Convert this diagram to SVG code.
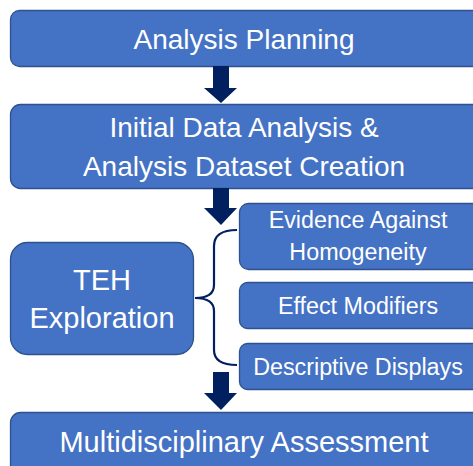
<svg xmlns="http://www.w3.org/2000/svg" width="473" height="466" viewBox="0 0 473 466">
<style>
.box{fill:#4472C4;stroke:#2F528F;stroke-width:1.3}
.t{fill:#fff;font-family:"Liberation Sans",Arial,sans-serif;text-anchor:middle}
.big{font-size:28px}
.sm{font-size:23.3px}
.arr{fill:#002060}
</style>
<rect width="473" height="466" fill="#fff"/>
<g id="analysis-planning">
<rect class="box" x="10.5" y="10.5" width="472" height="56" rx="9"/>
<text class="t big" x="244" y="49">Analysis Planning</text>
</g>
<g id="initial-data-analysis">
<rect class="box" x="10.5" y="104.5" width="472" height="84" rx="10"/>
<text class="t big" x="244" y="137">Initial Data Analysis &amp;</text>
<text class="t big" x="244" y="176">Analysis Dataset Creation</text>
</g>
<g id="teh-exploration">
<rect class="box" x="10.5" y="242.5" width="183" height="112" rx="17"/>
<text class="t" style="font-size:29px" x="102" y="290">TEH</text>
<text class="t" style="font-size:29px" x="102" y="328">Exploration</text>
</g>
<g id="evidence-against-homogeneity">
<rect class="box" x="239.5" y="203.5" width="243" height="66" rx="9"/>
<text class="t sm" x="358" y="228">Evidence Against</text>
<text class="t sm" x="358" y="260">Homogeneity</text>
</g>
<g id="effect-modifiers">
<rect class="box" x="239.5" y="282.5" width="243" height="46" rx="8"/>
<text class="t sm" x="358" y="314">Effect Modifiers</text>
</g>
<g id="descriptive-displays">
<rect class="box" x="239.5" y="343.5" width="243" height="46" rx="8"/>
<text class="t sm" x="358" y="375">Descriptive Displays</text>
</g>
<g id="multidisciplinary-assessment">
<rect class="box" x="10.5" y="412.5" width="472" height="70" rx="10"/>
<text class="t" style="font-size:29px" x="244" y="452">Multidisciplinary Assessment</text>
</g>
<g id="connectors">
<polygon class="arr" points="213,66 229,66 229,88 237,88 221,103 204,88 213,88"/>
<polygon class="arr" points="213,188 229,188 229,208 237,208 221,225 204,208 213,208"/>
<polygon class="arr" points="213,372 229,372 229,393 237,393 221,410 204,393 213,393"/>
<path d="M237,230 Q214,230 214,246 L214,285 Q214,298 195,298 Q214,298 214,311 L214,350 Q214,365 237,365" fill="none" stroke="#002060" stroke-width="2.2"/>
</g>
</svg>
